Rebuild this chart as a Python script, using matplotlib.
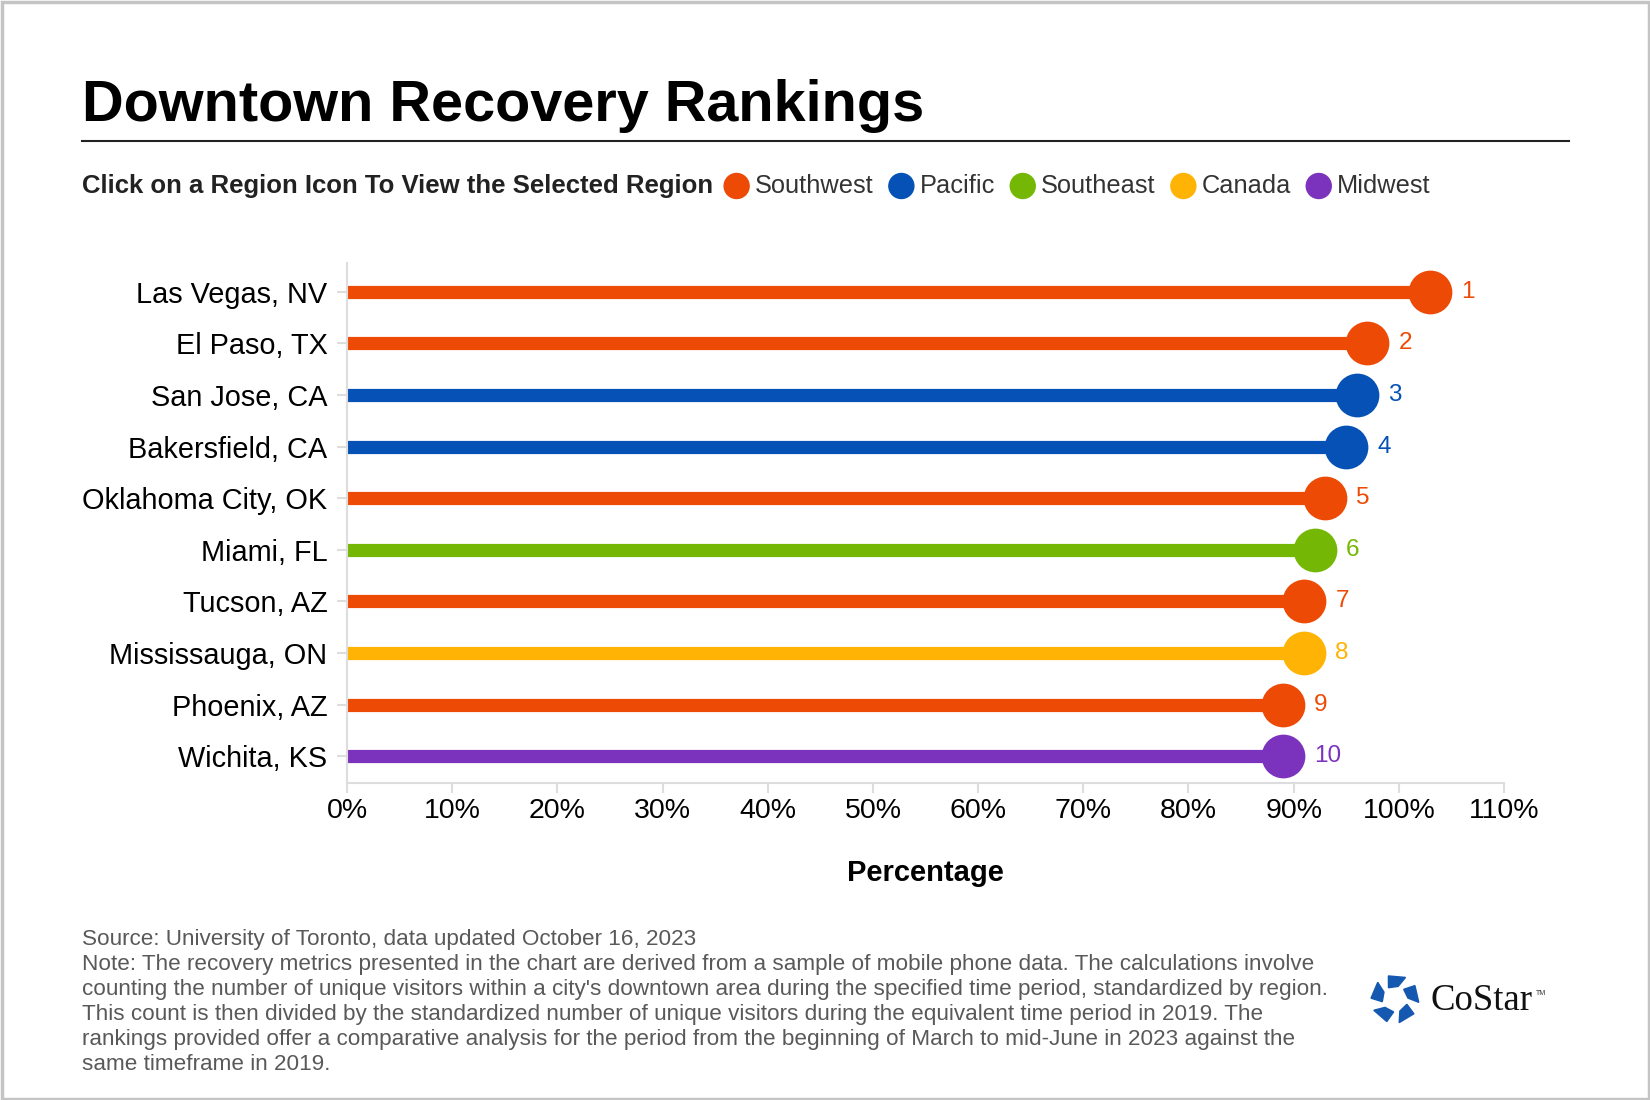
import matplotlib
matplotlib.use("Agg")
import matplotlib.pyplot as plt
from matplotlib.patches import Circle, Polygon, Rectangle
import numpy as np

plt.rcParams['font.family'] = ['Liberation Sans', 'DejaVu Sans']

# データ
cities = ['Las Vegas, NV', 'El Paso, TX', 'San Jose, CA', 'Bakersfield, CA',
          'Oklahoma City, OK', 'Miami, FL', 'Tucson, AZ', 'Mississauga, ON',
          'Phoenix, AZ', 'Wichita, KS']
recovery = [103, 97, 96, 95, 93, 92, 91, 91, 89, 89]
city_region = ['Southwest', 'Southwest', 'Pacific', 'Pacific', 'Southwest',
               'Southeast', 'Southwest', 'Canada', 'Southwest', 'Midwest']
ranks = [1, 2, 3, 4, 5, 6, 7, 8, 9, 10]

regions = ['Southwest', 'Pacific', 'Southeast', 'Canada', 'Midwest']
region_colors = ['#EC4A05', '#0551B5', '#74B805', '#FFB305', '#7B33BD']
xticks = [0, 10, 20, 30, 40, 50, 60, 70, 80, 90, 100, 110]

title = 'Downtown Recovery Rankings'
subtitle = 'Click on a Region Icon To View the Selected Region'
footer = [
    'Source: University of Toronto, data updated October 16, 2023',
    'Note: The recovery metrics presented in the chart are derived from a sample of mobile phone data. The calculations involve',
    "counting the number of unique visitors within a city's downtown area during the specified time period, standardized by region.",
    'This count is then divided by the standardized number of unique visitors during the equivalent time period in 2019. The',
    'rankings provided offer a comparative analysis for the period from the beginning of March to mid-June in 2023 against the',
    'same timeframe in 2019.',
]

color_of = dict(zip(regions, region_colors))

W, H = 1650, 1100
fig = plt.figure(figsize=(W / 100, H / 100), dpi=100)
fig.patch.set_facecolor('white')

# 装飾用（ピクセル座標）
deco = fig.add_axes([0, 0, 1, 1], zorder=0)
deco.set_xlim(0, W)
deco.set_ylim(H, 0)
deco.axis('off')

deco.add_patch(Rectangle((1.5, 1.5), W - 3, H - 3, fill=False, ec='#C4C4C4', lw=2.5))
deco.text(82, 121, title, fontsize=41.5, fontweight='bold', color='black', va='baseline')
deco.plot([82, 1569], [141, 141], color='#222222', lw=1.5)

renderer = fig.canvas.get_renderer()
sub = deco.text(82, 186, subtitle, fontsize=18.5, fontweight='bold', color='#222222', va='center')
x = sub.get_window_extent(renderer).x1 + 11
for name, c in zip(regions, region_colors):
    deco.add_patch(Circle((x + 12.5, 186), 12.5, color=c))
    t = deco.text(x + 31, 186, name, fontsize=18.3, color='#333333', va='center')
    x = t.get_window_extent(renderer).x1 + 15

for i, line in enumerate(footer):
    deco.text(82, 940 + i * 24.8, line, fontsize=16.2, color='#595959', va='center')

# ロゴ
cx, cy = 1395, 999
for k in range(5):
    a = np.deg2rad(90 + 72 * k)
    pts = []
    for r, da in [(24, -26), (24, 16), (13, 30), (13, -14)]:
        ang = a + np.deg2rad(da)
        pts.append((cx + r * np.cos(ang), cy - r * np.sin(ang)))
    deco.add_patch(Polygon(pts, closed=True, color='#1558B0'))
deco.text(1430, 1010, 'CoStar', fontsize=26.5, family='Liberation Serif', color='#111111', va='baseline')
deco.text(1536, 995, 'TM', fontsize=5, color='#333333', va='baseline')

# メインチャート
ax = fig.add_axes([347 / W, 1 - 783 / H, (1504 - 347) / W, (783 - 263) / H], zorder=1)
ax.patch.set_alpha(0)
y = np.arange(len(cities))
for yi, v, reg, rk in zip(y, recovery, city_region, ranks):
    c = color_of[reg]
    ax.plot([0, v], [yi, yi], color=c, lw=9.5, solid_capstyle='butt', zorder=2)
    ax.plot(v, yi, 'o', color=c, ms=31.5, mew=0, zorder=3)
    ax.annotate(str(rk), (v, yi), xytext=(22.5, 0), textcoords='offset points',
                color=c, fontsize=17.5, va='center', ha='left')

ax.set_xlim(0, 110)
ax.set_ylim(len(cities) - 1 + 0.52, -0.56)
ax.set_xticks(xticks)
ax.set_xticklabels([f'{t}%' for t in xticks])
ax.set_yticks(y)
ax.set_yticklabels(cities)
for s in ['top', 'right']:
    ax.spines[s].set_visible(False)
for s in ['left', 'bottom']:
    ax.spines[s].set_color('#DDDDDD')
    ax.spines[s].set_linewidth(1.5)
ax.tick_params(axis='both', colors='#DDDDDD', length=7, width=1.5, labelcolor='black', labelsize=20.5)
ax.tick_params(axis='y', labelsize=20.8)
ax.tick_params(axis='x', pad=4)
ax.tick_params(axis='y', pad=7)
ax.set_xlabel('Percentage', fontsize=21, fontweight='bold', labelpad=25)

fig.savefig('out.png', dpi=100, facecolor='white')
